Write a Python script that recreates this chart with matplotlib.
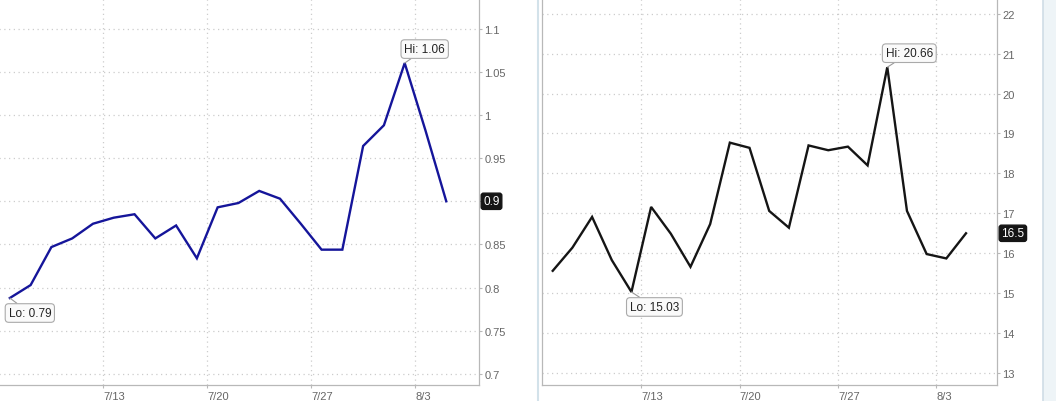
import matplotlib
matplotlib.use("Agg")
import matplotlib.pyplot as plt
from matplotlib.lines import Line2D
from matplotlib.patches import Rectangle

plt.rcParams['font.family'] = ['Liberation Sans', 'DejaVu Sans']

# trading days shown on both charts
days = ['7/6', '7/7', '7/8', '7/9', '7/10',
        '7/13', '7/14', '7/15', '7/16', '7/17',
        '7/20', '7/21', '7/22', '7/23', '7/24',
        '7/27', '7/28', '7/29', '7/30', '7/31',
        '8/3', '8/4']
week_labels = ['7/13', '7/20', '7/27', '8/3']

# left chart (blue)
left_vals = [0.788, 0.803, 0.847, 0.857, 0.874, 0.881, 0.885, 0.857, 0.872, 0.834,
             0.893, 0.898, 0.912, 0.903, 0.874, 0.844, 0.844, 0.964, 0.988, 1.06,
             0.982, 0.90]
left_ticks = [0.7, 0.75, 0.8, 0.85, 0.9, 0.95, 1.0, 1.05, 1.1]
left_lo, left_hi, left_last = '0.79', '1.06', '0.9'

# right chart (black)
right_vals = [15.56, 16.14, 16.91, 15.83, 15.03, 17.16, 16.49, 15.66, 16.73, 18.77,
              18.64, 17.06, 16.64, 18.70, 18.58, 18.67, 18.20, 20.66, 17.06, 15.98,
              15.87, 16.5]
right_ticks = [13, 14, 15, 16, 17, 18, 19, 20, 21, 22]
right_lo, right_hi, right_last = '15.03', '20.66', '16.5'

W, H = 1056, 402
fig = plt.figure(figsize=(W / 100, H / 100), dpi=100)
fig.patch.set_facecolor('white')

grid_col = '#cccccc'
spine_col = '#b8b8b8'
label_col = '#666666'


def fx(px):
    return px / W


def fy(py):
    return 1 - py / H


def draw_chart(ax, vals, ticks, color, ylim, lo, hi, last, lo_off, hi_off):
    x = list(range(len(vals)))
    ax.plot(x, vals, color=color, lw=1.7, solid_joinstyle='miter', zorder=3)
    ax.set_xlim(-0.56, len(vals) - 1 + 1.59)
    ax.set_ylim(*ylim)

    xt = [days.index(d) - 0.5 for d in week_labels]
    ax.set_xticks(xt)
    ax.set_xticklabels(week_labels, ha='left')
    ax.set_yticks(ticks)
    ax.set_yticklabels(['%g' % t for t in ticks])
    ax.yaxis.tick_right()
    ax.tick_params(axis='y', length=2, width=0.8, color=spine_col, pad=1.5,
                   labelsize=8, labelcolor=label_col)
    ax.tick_params(axis='x', length=2.5, width=0.8, color=spine_col, pad=1.5,
                   labelsize=8, labelcolor=label_col)
    ax.grid(True, color=grid_col, linestyle=(0, (1, 2.8)), lw=0.9)
    ax.set_axisbelow(True)
    ax.spines['top'].set_visible(False)
    for s in ['bottom', 'right', 'left']:
        ax.spines[s].set_color(spine_col)
        ax.spines[s].set_linewidth(0.9)

    i_lo = vals.index(min(vals))
    i_hi = vals.index(max(vals))
    box = dict(boxstyle='round,pad=0.28,rounding_size=0.3', fc='#fafafa', ec='#aaaaaa', lw=0.8)
    arrow = dict(arrowstyle='-', color='#999999', lw=0.8, shrinkA=0, shrinkB=0)
    ax.annotate('Lo: ' + lo, xy=(i_lo, vals[i_lo]), xytext=lo_off, textcoords='offset pixels',
                ha='center', va='center', fontsize=8.5, color='#222222', bbox=box,
                arrowprops=arrow, annotation_clip=False, zorder=5)
    ax.annotate('Hi: ' + hi, xy=(i_hi, vals[i_hi]), xytext=hi_off, textcoords='offset pixels',
                ha='center', va='center', fontsize=8.5, color='#222222', bbox=box,
                arrowprops=arrow, annotation_clip=False, zorder=5)

    # last value tag on the right axis
    ax.annotate(last, xy=(1, vals[-1]), xycoords=ax.get_yaxis_transform(),
                xytext=(4, 0), textcoords='offset pixels', ha='left', va='center',
                fontsize=8.5, color='white', annotation_clip=False, zorder=6,
                bbox=dict(boxstyle='round,pad=0.18,rounding_size=0.2', fc='#151515', ec='#151515'))


ax_l = fig.add_axes([fx(-1.8), fy(386), fx(481.1), 386 / H])
draw_chart(ax_l, left_vals, left_ticks, '#15159a', (0.6873, 1.1342),
           left_lo, left_hi, left_last, (20, -15), (20, 14))

ax_r = fig.add_axes([fx(541.7), fy(386), fx(455.6), 386 / H])
draw_chart(ax_r, right_vals, right_ticks, '#151515', (12.70, 22.368),
           right_lo, right_hi, right_last, (23, -15), (22, 14))

# panel separators / border
fig.add_artist(Line2D([fx(538), fx(538)], [0, 1], color='#d3e2ea', lw=1.5))
fig.add_artist(Rectangle((fx(1043), 0), fx(13), 1, fc='#eef4f7', ec='none'))
fig.add_artist(Line2D([fx(1043), fx(1043)], [0, 1], color='#cfdde6', lw=1.2))

fig.savefig('out.png', dpi=100)
